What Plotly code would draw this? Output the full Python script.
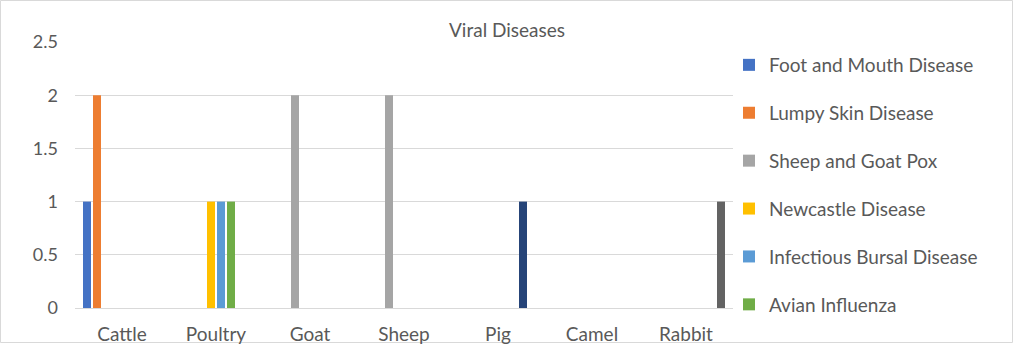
import plotly.graph_objects as go

categories = ["Cattle", "Poultry", "Goat", "Sheep", "Pig", "Camel", "Rabbit"]
series_names = [
    "Foot and Mouth Disease",
    "Lumpy Skin Disease",
    "Sheep and Goat Pox",
    "Newcastle Disease",
    "Infectious Bursal Disease",
    "Avian Influenza",
    "African Swine Fever",
    "Rabbit Haemorrhagic Disease",
]
foot_and_mouth = [1, None, None, None, None, None, None]
lumpy_skin = [2, None, None, None, None, None, None]
sheep_goat_pox = [None, None, 2, 2, None, None, None]
newcastle = [None, 1, None, None, None, None, None]
bursal = [None, 1, None, None, None, None, None]
avian_flu = [None, 1, None, None, None, None, None]
swine_fever = [None, None, None, None, 1, None, None]
rabbit_hd = [None, None, None, None, None, None, 1]
series_values = [foot_and_mouth, lumpy_skin, sheep_goat_pox, newcastle,
                 bursal, avian_flu, swine_fever, rabbit_hd]
colors = ["#4472C4", "#ED7D31", "#A5A5A5", "#FFC000", "#5B9BD5", "#70AD47",
          "#264478", "#636363"]
in_legend = [True, True, True, True, True, True, False, False]
y_ticks = [0, 0.5, 1, 1.5, 2, 2.5]
y_tick_text = ["0", "0.5", "1", "1.5", "2", "2.5"]

FONT = "Lato"
TXT = "#595959"
W, H = 1014, 346
ML, MR, MT, MB = 75, 281, 42, 38
PW = W - ML - MR
PH = H - MT - MB

fig = go.Figure()
for i, (name, vals, col, show) in enumerate(zip(series_names, series_values, colors, in_legend)):
    fig.add_trace(go.Bar(
        name=name, x=categories, y=vals, marker=dict(color=col, line=dict(width=0)),
        showlegend=show, legendgroup=f"g{i}",
    ))

fig.update_layout(
    width=W, height=H,
    barmode="group", bargap=0.149, bargroupgap=0.2,
    plot_bgcolor="white", paper_bgcolor="white",
    margin=dict(l=ML, r=MR, t=MT, b=MB, autoexpand=False),
    font=dict(family=FONT, color=TXT, size=19),
    title=dict(text="Viral Diseases", x=0.5, xref="container", y=1 - 30 / H,
               yref="container", yanchor="middle", xanchor="center",
               font=dict(family=FONT, size=19, color=TXT)),
    xaxis=dict(showgrid=False, showline=False, ticks="", tickfont=dict(size=19),
               ticklabelstandoff=13, automargin=False),
    yaxis=dict(range=[0, 2.5], tickvals=y_ticks, ticktext=y_tick_text,
               showgrid=True, gridcolor="#D9D9D9", gridwidth=1.3,
               zeroline=True, zerolinecolor="#D9D9D9", zerolinewidth=1.3,
               showline=False, ticks="", tickfont=dict(size=18), ticklabelstandoff=16,
               automargin=False),
    legend=dict(x=(729 - ML) / PW, xanchor="left", y=1 - (46 - MT) / PH, yanchor="top",
                traceorder="grouped", tracegroupgap=20.2, font=dict(size=19, color=TXT),
                bgcolor="rgba(0,0,0,0)", itemwidth=30, maxheight=340),
    shapes=[dict(type="rect", xref="paper", yref="paper",
                 x0=(0.5 - ML) / PW, x1=(W - 1.5 - ML) / PW,
                 y0=-(H - 3.5 - MT - PH) / PH, y1=1 + (MT - 0.5) / PH,
                 line=dict(color="#D9D9D9", width=1), layer="below")],
)

fig.write_html("out.html")
